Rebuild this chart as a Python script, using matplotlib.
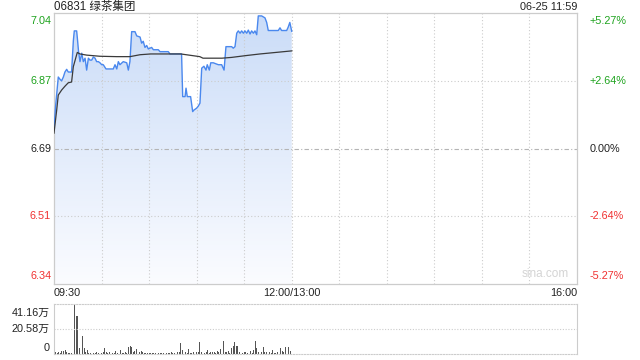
import matplotlib.pyplot as plt
import numpy as np
from matplotlib.patches import Polygon
from matplotlib.colors import LinearSegmentedColormap

plt.rcParams['font.family'] = ['Liberation Sans', 'Noto Sans CJK SC']

# 分时数据 (交易分钟, 0 = 09:30, 150 = 12:00/13:00, 330 = 16:00)
t_price = [0, 1, 2.7, 3.8, 4.8, 5.9, 6.9, 8.0, 9.0, 10.1, 11.1, 12.2, 12.8, 14.3,
           14.9, 15.5, 16.4, 17.5, 18.5, 19.6, 20.6, 21.7, 22.7, 23.8, 24.8, 25.9,
           26.9, 28.0, 29.0, 30.1, 31.1, 32.8, 35.3, 37.4, 38.5, 39.6, 40.6, 41.6,
           43.7, 45.9, 46.9, 47.9, 49.0, 51.1, 52.2, 54.3, 55.3, 56.3, 57.4, 58.5,
           59.5, 61.6, 62.7, 65.8, 66.9, 72.1, 73.2, 80.5, 81.2, 82.7, 83.3, 84.1,
           86.2, 87.5, 88.3, 90.0, 91.0, 92.1, 93.2, 94.6, 95.9, 96.7, 98.0, 98.9,
           100.5, 103.7, 105.8, 107.3, 108.5, 112.1, 113.1, 114.2, 115.3, 116.3,
           117.4, 118.4, 119.5, 120.5, 121.6, 122.6, 123.7, 124.7, 125.8, 126.8,
           127.9, 128.9, 131.0, 133.1, 134.2, 135.2, 141.5, 142.6, 143.6, 146.8,
           147.8, 148.8, 150]
price = [6.742, 6.80, 6.876, 6.870, 6.866, 6.876, 6.889, 6.896, 6.889, 6.889, 6.889,
         6.970, 6.996, 6.996, 6.970, 6.942, 6.916, 6.938, 6.916, 6.925, 6.894, 6.925,
         6.920, 6.920, 6.928, 6.925, 6.916, 6.916, 6.913, 6.908, 6.908, 6.897, 6.897,
         6.897, 6.908, 6.897, 6.916, 6.908, 6.916, 6.913, 6.894, 6.916, 6.994, 6.994,
         6.983, 6.980, 6.964, 6.969, 6.953, 6.958, 6.949, 6.953, 6.947, 6.947, 6.942,
         6.942, 6.936, 6.936, 6.825, 6.825, 6.847, 6.825, 6.825, 6.786, 6.790, 6.795,
         6.800, 6.808, 6.899, 6.904, 6.894, 6.908, 6.894, 6.913, 6.913, 6.908, 6.908,
         6.894, 6.955, 6.955, 6.951, 6.955, 6.990, 6.996, 6.990, 6.996, 6.990, 6.996,
         6.990, 6.998, 6.988, 6.996, 6.990, 6.996, 6.986, 7.035, 7.035, 7.030, 7.018,
         6.997, 6.997, 7.004, 6.997, 6.997, 7.006, 7.018, 6.995]

t_avg = [0, 1.7, 2.7, 4.8, 6.9, 9.0, 11.1, 12.2, 14.7, 16.4, 20.6, 29.0, 39.6, 47.9,
         54.3, 61.0, 80.0, 92.0, 94.0, 106.0, 112.0, 121.6, 130.0, 142.6, 150]
avg = [6.730, 6.790, 6.829, 6.842, 6.852, 6.861, 6.863, 6.903, 6.940, 6.936, 6.933,
       6.930, 6.929, 6.929, 6.934, 6.936, 6.936, 6.929, 6.925, 6.925, 6.927, 6.932,
       6.936, 6.941, 6.944]

# 每分钟成交量 (万股)
volume = [1.2, 1.5, 1.0, 1.8, 1.2, 2.8, 2.8, 3.0, 2.0, 1.0, 0.8, 1.2, 2.0, 41.16, 31.0,
          31.5, 5.0, 1.5, 15.0, 5.0, 1.5, 3.5, 1.2, 1.0, 1.5, 0.8, 1.2, 1.5, 1.0, 2.5,
          1.2, 1.5, 4.6, 1.8, 1.0, 1.5, 2.0, 1.2, 0.8, 2.5, 1.0, 1.5, 3.5, 1.2, 1.0,
          1.8, 1.2, 5.5, 6.2, 6.0, 1.5, 2.5, 4.0, 4.5, 2.0, 2.5, 1.5, 1.0, 1.2, 0.8,
          0.6, 1.0, 0.8, 0.6, 1.0, 0.8, 1.2, 0.6, 1.0, 0.8, 1.0, 1.2, 0.8, 1.0, 1.5,
          1.0, 0.8, 1.2, 1.5, 2.0, 9.0, 3.0, 1.5, 2.0, 1.0, 4.0, 1.2, 1.0, 1.5, 1.2,
          2.0, 1.5, 9.5, 2.0, 1.5, 1.2, 2.0, 3.0, 1.2, 1.5, 1.8, 2.0, 1.2, 2.5, 1.5,
          4.5, 2.0, 10.5, 2.0, 1.5, 2.5, 1.2, 4.6, 6.5, 10.0, 6.8, 6.2, 1.5, 3.0, 1.2,
          1.5, 2.0, 1.0, 1.5, 2.5, 1.2, 3.0, 11.0, 5.0, 1.5, 1.0, 2.0, 6.0, 1.5, 2.0,
          14.0, 1.5, 1.0, 3.5, 1.2, 1.0, 2.0, 1.5, 5.0, 2.5, 1.5, 6.0, 2.0, 5.4, 2.5]

prev_close = 6.69
pct = 0.0527
price_ticks = ['7.04', '6.87', '6.69', '6.51', '6.34']
pct_ticks = ['+5.27%', '+2.64%', '0.00%', '-2.64%', '-5.27%']
vol_ticks = ['41.16万', '20.58万', '0']
time_labels = ['09:30', '12:00/13:00', '16:00']

GREEN = '#1ea31e'
RED = '#f03030'
GRID = '#cccccc'
FS = 7.8

fig = plt.figure(figsize=(6.4, 3.6), dpi=100)
W, H = 640, 360
ax = fig.add_axes([54 / W, 1 - 284 / H, 523 / W, 271 / H])
axv = fig.add_axes([54 / W, 1 - 354 / H, 523 / W, 50 / H])

ymax = prev_close * (1 + pct)
ymin = prev_close * (1 - pct)
ax.set_xlim(0, 330)
ax.set_ylim(ymin, ymax)

# 网格
for m in range(30, 330, 30):
    ax.axvline(m, color=GRID, lw=0.8, ls=(0, (1, 2)))
levels = [ymin + (ymax - ymin) * k / 4 for k in range(5)][::-1]
for i, lv in enumerate(levels[1:4]):
    if i == 1:
        ax.axhline(lv, color='#b4b4b4', lw=0.8, ls=(0, (4, 2, 1, 2)))
    else:
        ax.axhline(lv, color=GRID, lw=0.8, ls=(0, (1, 2)))

# 渐变填充
grad = np.linspace(1, 0, 256).reshape(-1, 1)
cmap = LinearSegmentedColormap.from_list('f', ['#fbfcff', '#cadcf8'])
im = ax.imshow(grad, cmap=cmap, aspect='auto', extent=[0, 330, ymin, ymax],
               origin='upper', zorder=1, interpolation='bilinear')
verts = [(t_price[0], ymin)] + list(zip(t_price, price)) + [(t_price[-1], ymin)]
poly = Polygon(verts, closed=True, transform=ax.transData, facecolor='none',
               edgecolor='none')
ax.add_patch(poly)
im.set_clip_path(poly)

ax.plot(t_price, price, color='#4a88ee', lw=1.0, zorder=3)
ax.plot(t_avg, avg, color='#3a3a3a', lw=0.9, zorder=4)

ax.set_xticks([])
ax.set_yticks([])
for s in ax.spines.values():
    s.set_color('#cccccc')
    s.set_linewidth(0.9)

# 左右刻度
cols = [GREEN, GREEN, '#222222', RED, RED]
vas = ['top', 'center', 'center', 'center', 'bottom']
for lv, lab, pl, c, va in zip(levels, price_ticks, pct_ticks, cols, vas):
    off = -2 if va == 'top' else (2 if va == 'bottom' else 0)
    ax.annotate(lab, (0, lv), xycoords=('axes fraction', 'data'),
                xytext=(-2, off), textcoords='offset points', ha='right', va=va,
                color=c, fontsize=FS)
    ax.annotate(pl, (1, lv), xycoords=('axes fraction', 'data'),
                xytext=(9, off), textcoords='offset points', ha='left', va=va,
                color=c, fontsize=FS)

ax.text(0.985, 0.015, 'sina.com', transform=ax.transAxes, ha='right', va='bottom',
        color='#d4d4d4', fontsize=8.5)

# 标题与时间
fig.text(54 / W, 1 - 7 / H, '06831 绿茶集团', ha='left', va='center', fontsize=8.3,
         color='#222222')
fig.text(577 / W, 1 - 7 / H, '06-25 11:59', ha='right', va='center', fontsize=FS,
         color='#222222')
for x, lab, ha in zip([0, 150, 330], time_labels, ['left', 'center', 'right']):
    ax.annotate(lab, (x, 0), xycoords=('data', 'axes fraction'), xytext=(0, -3),
                textcoords='offset points', ha=ha, va='top', fontsize=FS,
                color='#222222')

# 成交量
vmax = 41.16
axv.set_xlim(0, 330)
axv.set_ylim(0, vmax)
axv.bar(np.arange(len(volume)), volume, width=0.55, color='#555555', lw=0)
axv.axhline(vmax / 2, color=GRID, lw=0.8, ls=(0, (1, 1.5)))
axv.set_xticks([])
axv.set_yticks([])
for k in ['left', 'right']:
    axv.spines[k].set_color('#cccccc')
for k in ['top', 'bottom']:
    axv.spines[k].set_color(GRID)
    axv.spines[k].set_linestyle((0, (1, 1.5)))
for lv, lab, va in zip([vmax, vmax / 2, 0], vol_ticks, ['top', 'center', 'bottom']):
    off = -3 if va == 'top' else (1 if va == 'bottom' else 0)
    axv.annotate(lab, (0, lv), xycoords=('axes fraction', 'data'),
                 xytext=(-3, off), textcoords='offset points', ha='right', va=va,
                 fontsize=FS, color='#222222')

fig.savefig('out.png', dpi=100)
